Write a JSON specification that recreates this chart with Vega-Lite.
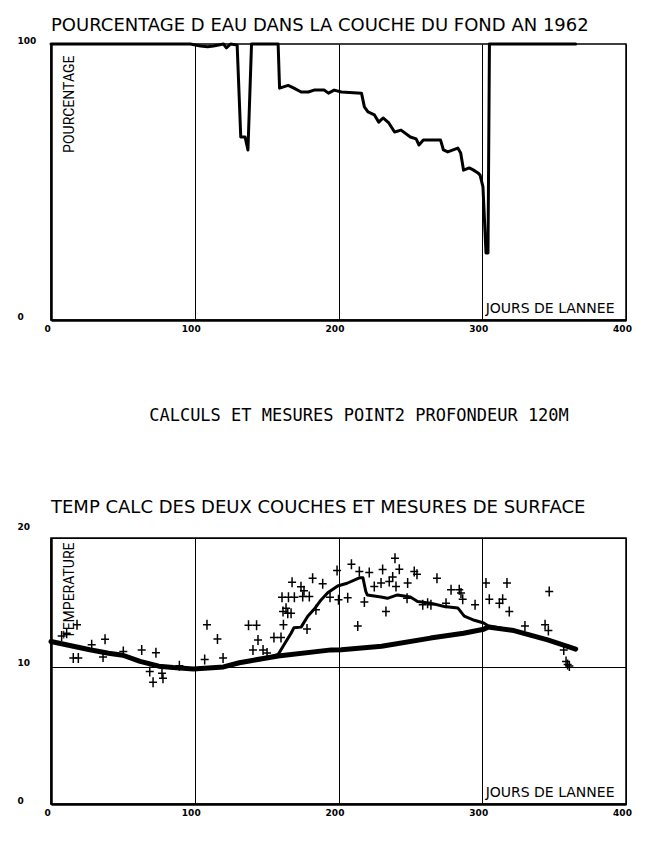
{
  "$schema": "https://vega.github.io/schema/vega-lite/v6.json",
  "padding": {"left": 16, "top": 16, "right": 0, "bottom": 0},
  "bounds": "flush",
  "spacing": 0,
  "background": "white",
  "config": {
    "font": "DejaVu Sans",
    "view": {"stroke": "black", "strokeWidth": 1.5},
    "axis": {
      "domainColor": "black", "domainWidth": 2.5, "ticks": false, "tickSize": 0,
      "gridColor": "black", "gridOpacity": 1, "gridWidth": 1,
      "labelColor": "black", "labelFont": "DejaVu Sans", "labelFontSize": 9, "labelFontWeight": "bold",
      "labelFlush": false, "titleColor": "black", "titleFontWeight": "normal", "titleFont": "DejaVu Sans"
    },
    "title": {"color": "black", "font": "DejaVu Sans", "fontSize": 18, "fontWeight": "normal", "anchor": "start", "baseline": "alphabetic", "frame": "group"}
  },
  "datasets": {
    "eau": [
      {"jour": 0, "pourcentage": 100}, {"jour": 97, "pourcentage": 100}, {"jour": 104, "pourcentage": 99.3},
      {"jour": 109, "pourcentage": 99}, {"jour": 113, "pourcentage": 99.3}, {"jour": 120, "pourcentage": 100},
      {"jour": 122, "pourcentage": 98.6}, {"jour": 125, "pourcentage": 100}, {"jour": 129.5, "pourcentage": 99.6},
      {"jour": 132, "pourcentage": 66.3}, {"jour": 135, "pourcentage": 66.3}, {"jour": 137, "pourcentage": 61.6},
      {"jour": 139.5, "pourcentage": 100}, {"jour": 158, "pourcentage": 100}, {"jour": 159, "pourcentage": 84},
      {"jour": 165, "pourcentage": 85}, {"jour": 169, "pourcentage": 84}, {"jour": 174, "pourcentage": 82.6},
      {"jour": 179, "pourcentage": 82.6}, {"jour": 183, "pourcentage": 83.3}, {"jour": 190, "pourcentage": 83.3},
      {"jour": 193, "pourcentage": 82.2}, {"jour": 197, "pourcentage": 83.3}, {"jour": 202, "pourcentage": 82.6},
      {"jour": 216, "pourcentage": 82.2}, {"jour": 218, "pourcentage": 77.2}, {"jour": 220.5, "pourcentage": 75.4},
      {"jour": 225, "pourcentage": 74.3}, {"jour": 228, "pourcentage": 71.7}, {"jour": 231, "pourcentage": 73.2},
      {"jour": 235, "pourcentage": 71.4}, {"jour": 239, "pourcentage": 68.1}, {"jour": 243.5, "pourcentage": 68.8},
      {"jour": 250, "pourcentage": 66.3}, {"jour": 254, "pourcentage": 65.6}, {"jour": 256, "pourcentage": 63.4},
      {"jour": 259, "pourcentage": 65.2}, {"jour": 271, "pourcentage": 65.2}, {"jour": 273, "pourcentage": 61.6},
      {"jour": 276, "pourcentage": 60.9}, {"jour": 283, "pourcentage": 62.3}, {"jour": 285, "pourcentage": 60.5},
      {"jour": 287, "pourcentage": 54.3}, {"jour": 291, "pourcentage": 55.1}, {"jour": 294, "pourcentage": 54.3},
      {"jour": 297, "pourcentage": 53.3}, {"jour": 298.5, "pourcentage": 52.5}, {"jour": 300.5, "pourcentage": 48.2},
      {"jour": 302.6, "pourcentage": 24.3}, {"jour": 304, "pourcentage": 24.3}, {"jour": 305, "pourcentage": 100},
      {"jour": 365, "pourcentage": 100}
    ],
    "fond": [
      {"jour": 0, "temp": 11.85}, {"jour": 27, "temp": 11.25}, {"jour": 40, "temp": 11.0}, {"jour": 50, "temp": 10.85},
      {"jour": 62, "temp": 10.4}, {"jour": 75, "temp": 10.05}, {"jour": 85, "temp": 9.95}, {"jour": 99, "temp": 9.85},
      {"jour": 120, "temp": 10.0}, {"jour": 131, "temp": 10.3}, {"jour": 139, "temp": 10.45}, {"jour": 158, "temp": 10.8},
      {"jour": 195, "temp": 11.24}, {"jour": 202, "temp": 11.25}, {"jour": 230, "temp": 11.5}, {"jour": 264, "temp": 12.1},
      {"jour": 287, "temp": 12.45}, {"jour": 301, "temp": 12.75}, {"jour": 304, "temp": 12.9}, {"jour": 322, "temp": 12.65},
      {"jour": 345.5, "temp": 11.97}, {"jour": 365, "temp": 11.3}
    ],
    "surface": [
      {"jour": 150, "temp": 10.65}, {"jour": 158, "temp": 10.9}, {"jour": 162, "temp": 11.6}, {"jour": 167, "temp": 12.45},
      {"jour": 169, "temp": 12.85}, {"jour": 174, "temp": 12.9}, {"jour": 178.6, "temp": 13.7}, {"jour": 183, "temp": 14.2},
      {"jour": 188, "temp": 14.9}, {"jour": 192.5, "temp": 15.4}, {"jour": 199.4, "temp": 15.9}, {"jour": 206, "temp": 16.1},
      {"jour": 214.5, "temp": 16.5}, {"jour": 217, "temp": 16.5}, {"jour": 219, "temp": 15.5}, {"jour": 220, "temp": 15.25},
      {"jour": 229.6, "temp": 15.1}, {"jour": 234, "temp": 15.0}, {"jour": 241, "temp": 15.25}, {"jour": 250, "temp": 15.1},
      {"jour": 255, "temp": 14.77}, {"jour": 264, "temp": 14.65}, {"jour": 273.6, "temp": 14.4}, {"jour": 283, "temp": 14.3},
      {"jour": 287.5, "temp": 13.7}, {"jour": 294.5, "temp": 13.4}, {"jour": 301, "temp": 13.2}, {"jour": 304, "temp": 13.0},
      {"jour": 322, "temp": 12.65}, {"jour": 345.5, "temp": 11.97}, {"jour": 365, "temp": 11.3}
    ],
    "mesures": [
      {"jour": 7.4, "temp": 12.26}, {"jour": 10.9, "temp": 12.46}, {"jour": 18.1, "temp": 13.07}, {"jour": 15.5, "temp": 10.64},
      {"jour": 19.0, "temp": 10.64}, {"jour": 28.3, "temp": 11.61}, {"jour": 37.6, "temp": 12.02}, {"jour": 36.2, "temp": 10.73},
      {"jour": 50.3, "temp": 11.12}, {"jour": 63.1, "temp": 11.24}, {"jour": 73.0, "temp": 11.04}, {"jour": 68.7, "temp": 9.66},
      {"jour": 71.0, "temp": 8.88}, {"jour": 77.2, "temp": 9.54}, {"jour": 77.9, "temp": 9.18}, {"jour": 89.3, "temp": 10.09},
      {"jour": 106.9, "temp": 10.53}, {"jour": 119.7, "temp": 10.64}, {"jour": 108.5, "temp": 13.07}, {"jour": 115.8, "temp": 12.04},
      {"jour": 137.4, "temp": 13.03}, {"jour": 143, "temp": 13.03}, {"jour": 140.5, "temp": 11.24}, {"jour": 144, "temp": 11.97},
      {"jour": 147.5, "temp": 11.24}, {"jour": 150.3, "temp": 11.02}, {"jour": 155.1, "temp": 12.15}, {"jour": 160, "temp": 12.15},
      {"jour": 161.7, "temp": 13.07}, {"jour": 161.4, "temp": 14.04}, {"jour": 164.7, "temp": 13.92}, {"jour": 167, "temp": 13.92},
      {"jour": 163.5, "temp": 14.28}, {"jour": 160.7, "temp": 15.07}, {"jour": 165.2, "temp": 15.07}, {"jour": 169.3, "temp": 15.07},
      {"jour": 175.1, "temp": 15.13}, {"jour": 179.7, "temp": 15.13}, {"jour": 167.7, "temp": 16.17}, {"jour": 173.9, "temp": 15.84},
      {"jour": 176, "temp": 15.55}, {"jour": 182, "temp": 16.47}, {"jour": 189, "temp": 16.06}, {"jour": 194.1, "temp": 15.07},
      {"jour": 184.3, "temp": 14.16}, {"jour": 178.1, "temp": 12.77}, {"jour": 199, "temp": 17.03}, {"jour": 209, "temp": 17.48},
      {"jour": 214.5, "temp": 16.96}, {"jour": 221.4, "temp": 16.88}, {"jour": 230.7, "temp": 17.1}, {"jour": 239.3, "temp": 17.93},
      {"jour": 242.3, "temp": 17.12}, {"jour": 252.7, "temp": 16.96}, {"jour": 254.6, "temp": 16.75}, {"jour": 268.5, "temp": 16.47},
      {"jour": 200, "temp": 14.89}, {"jour": 206.4, "temp": 15.04}, {"jour": 218, "temp": 14.74}, {"jour": 213.4, "temp": 12.99},
      {"jour": 224.9, "temp": 15.86}, {"jour": 229.6, "temp": 16.11}, {"jour": 233, "temp": 14.04}, {"jour": 235.3, "temp": 16.23},
      {"jour": 237.7, "temp": 16.55}, {"jour": 240, "temp": 15.86}, {"jour": 248.1, "temp": 16.11}, {"jour": 247.7, "temp": 15.01},
      {"jour": 258.6, "temp": 14.53}, {"jour": 262, "temp": 14.65}, {"jour": 264.3, "temp": 14.53}, {"jour": 274.8, "temp": 14.65},
      {"jour": 278.3, "temp": 15.62}, {"jour": 284, "temp": 15.62}, {"jour": 285.2, "temp": 15.38}, {"jour": 286.4, "temp": 14.94},
      {"jour": 295, "temp": 14.53}, {"jour": 302.6, "temp": 16.11}, {"jour": 304.9, "temp": 14.94}, {"jour": 311.9, "temp": 14.65},
      {"jour": 314.2, "temp": 14.94}, {"jour": 317.2, "temp": 16.11}, {"jour": 318.8, "temp": 14.04}, {"jour": 346.6, "temp": 15.5},
      {"jour": 329.7, "temp": 12.99}, {"jour": 343.7, "temp": 13.07}, {"jour": 346, "temp": 12.65}, {"jour": 356.7, "temp": 11.24},
      {"jour": 358.3, "temp": 10.39}, {"jour": 359.4, "temp": 10.18}, {"jour": 360.6, "temp": 10.07}
    ]
  },
  "vconcat": [
    {
      "width": 575,
      "height": 276,
      "title": {"text": "POURCENTAGE D EAU DANS LA COUCHE DU FOND AN 1962", "offset": 1},
      "data": {"name": "eau"},
      "mark": {"type": "line", "color": "black", "strokeWidth": 3, "strokeJoin": "round", "strokeCap": "round"},
      "encoding": {
        "x": {"field": "jour", "type": "quantitative", "scale": {"domain": [0, 400], "nice": false},
          "axis": {"values": [0, 100, 200, 300, 400], "grid": true, "labelPadding": 4, "labelOffset": -4,
            "title": "JOURS DE LANNEE", "titleX": 563, "titleY": -8, "titleAlign": "right", "titleBaseline": "alphabetic", "titleFontSize": 14}},
        "y": {"field": "pourcentage", "type": "quantitative", "scale": {"domain": [0, 100], "nice": false},
          "axis": {"values": [0, 100], "grid": false, "labelAlign": "left", "labelPadding": 34, "labelBaseline": "alphabetic", "labelOffset": -1,
            "title": "POURCENTAGE", "titleAngle": 270, "titleX": 11, "titleY": 11, "titleAlign": "right", "titleBaseline": "top",
            "titleFontSize": 14, "titleFont": "Roboto"}}
      }
    },
    {
      "width": 616,
      "height": 218,
      "view": {"stroke": null},
      "data": {"values": [{"texte": "CALCULS ET MESURES  POINT2  PROFONDEUR  120M"}]},
      "mark": {"type": "text", "font": "DejaVu Sans Mono", "fontSize": 17, "color": "black", "dy": -13},
      "encoding": {"text": {"field": "texte"}}
    },
    {
      "width": 575,
      "height": 266,
      "title": {"text": "TEMP CALC DES DEUX COUCHES ET MESURES DE SURFACE", "offset": 5},
      "encoding": {
        "x": {"field": "jour", "type": "quantitative", "scale": {"domain": [0, 400], "nice": false},
          "axis": {"values": [0, 100, 200, 300, 400], "grid": true, "labelPadding": 4, "labelOffset": -4,
            "title": "JOURS DE LANNEE", "titleX": 563, "titleY": -8, "titleAlign": "right", "titleBaseline": "alphabetic", "titleFontSize": 14}},
        "y": {"field": "temp", "type": "quantitative", "scale": {"domain": [0, 19.4], "nice": false},
          "axis": {"values": [0, 10, 19.4], "grid": true, "labelAlign": "left", "labelPadding": 34, "labelBaseline": "alphabetic",
            "labelExpr": "datum.value > 15 ? '20' : datum.label",
            "labelOffset": {"condition": {"test": "datum.value > 15", "value": -9}, "value": -1},
            "title": "TEMPERATURE", "titleAngle": 270, "titleX": 11, "titleY": 4, "titleAlign": "right", "titleBaseline": "top",
            "titleFontSize": 14, "titleFont": "Roboto"}}
      },
      "layer": [
        {"data": {"name": "fond"}, "mark": {"type": "line", "color": "black", "strokeWidth": 5, "strokeJoin": "round", "strokeCap": "round"}},
        {"data": {"name": "surface"}, "mark": {"type": "line", "color": "black", "strokeWidth": 3, "strokeJoin": "round", "strokeCap": "round"}},
        {"data": {"name": "mesures"}, "mark": {"type": "point", "shape": "M-0.8,0L0.8,0M0,-1L0,1", "size": 100, "filled": false, "stroke": "black", "strokeWidth": 1.5, "opacity": 1}}
      ]
    }
  ]
}
